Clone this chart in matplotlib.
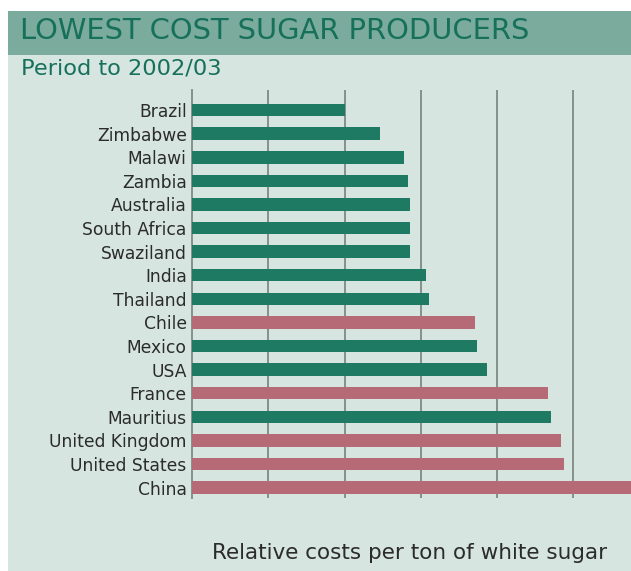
import matplotlib.pyplot as plt
from matplotlib.patches import Rectangle

plt.rcParams['font.family'] = ['DejaVu Sans']

# producers, top to bottom, and their relative cost (one unit per gridline)
countries = ['Brazil', 'Zimbabwe', 'Malawi', 'Zambia', 'Australia', 'South Africa',
             'Swaziland', 'India', 'Thailand', 'Chile', 'Mexico', 'USA', 'France',
             'Mauritius', 'United Kingdom', 'United States', 'China']
costs = [2.00, 2.47, 2.78, 2.83, 2.86, 2.86, 2.86, 3.07, 3.11, 3.71, 3.74, 3.87,
         4.68, 4.72, 4.85, 4.89, 6.00]
# True where the producer is highlighted in the darker green
green = [True, True, True, True, True, True, True, True, True, False, True, True,
         False, True, False, False, False]

GREEN = '#1f7a64'
PINK = '#b56a75'
BG = '#d6e5e0'
BAND = '#7aab9c'
TITLE = '#16705a'

W, H = 631, 571
fig = plt.figure(figsize=(W / 100, H / 100), dpi=100)
fig.patch.set_facecolor('white')

# light panel and title band
fig.add_artist(Rectangle((8 / W, 0), 1 - 8 / W, 1 - 55 / H, transform=fig.transFigure,
                         facecolor=BG, edgecolor='none', zorder=0))
fig.add_artist(Rectangle((8 / W, 1 - 55 / H), 1 - 8 / W, 44 / H, transform=fig.transFigure,
                         facecolor=BAND, edgecolor='none', zorder=0))

fig.text(20 / W, 1 - 31 / H, 'LOWEST COST SUGAR PRODUCERS', color=TITLE,
         fontsize=20.8, va='center', ha='left')
fig.text(21 / W, 1 - 68 / H, 'Period to 2002/03', color=TITLE,
         fontsize=16.2, va='center', ha='left')

left, right = 192.3 / W, 1.0
top, bottom = 1 - 90 / H, 1 - 498 / H
ax = fig.add_axes([left, bottom, right - left, top - bottom])
ax.set_facecolor('none')

ypos = list(range(len(countries)))
colors = [GREEN if g else PINK for g in green]
ax.barh(ypos, costs, height=0.53, color=colors, zorder=3)

ax.set_xlim(0, (W - 192.3) / 76.1)
ax.set_ylim(16.44, -0.85)
ax.set_xticks([1, 2, 3, 4, 5])
ax.xaxis.grid(True, color='#7f8a86', linewidth=1.3, zorder=1)
ax.tick_params(axis='x', length=0, labelbottom=False)
ax.tick_params(axis='y', length=0, pad=4, labelsize=12.3, labelcolor='#2b2b2b')
ax.set_yticks(ypos)
ax.set_yticklabels(countries)

for side in ['top', 'right', 'bottom']:
    ax.spines[side].set_visible(False)
ax.spines['left'].set_color('#7f8a86')
ax.spines['left'].set_linewidth(1.3)

fig.text(409.5 / W, 1 - 553 / H, 'Relative costs per ton of white sugar', color='#2b2b2b',
         fontsize=15.5, va='center', ha='center')

fig.savefig('out.png', dpi=100, facecolor=fig.get_facecolor())
